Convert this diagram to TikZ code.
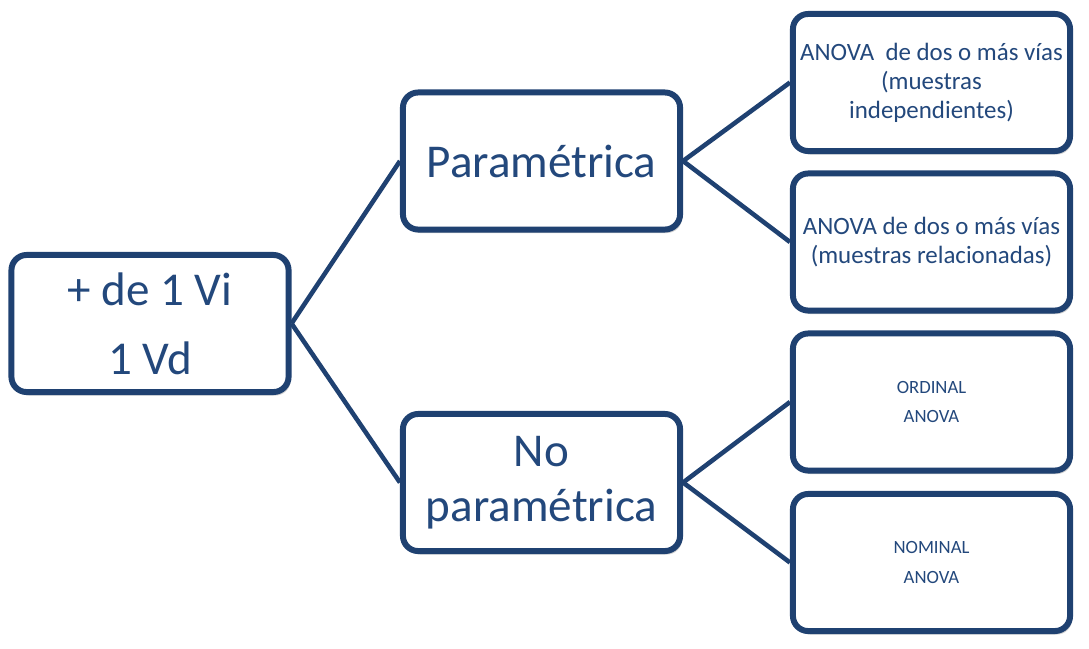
\documentclass[tikz,border=0pt]{standalone}
\usepackage{fontspec}
\setmainfont{Carlito}
\usetikzlibrary{shadows}

\definecolor{boxblue}{RGB}{31,65,113}
\definecolor{textblue}{RGB}{35,72,124}

\tikzset{
	box/.style={draw=boxblue, line width=4.3pt, fill=white, rounded corners=11pt,
		minimum width=2.77in, minimum height=1.37in, align=center, text=textblue,
		inner sep=0pt, drop shadow={shadow xshift=1.5pt, shadow yshift=-2.5pt, opacity=0.3, fill=black!60}},
	bigtext/.style={font=\fontsize{34}{40}\selectfont},
	midtext/.style={font=\fontsize{18}{21}\selectfont},
	smalltext/.style={font=\fontsize{13.5}{21.6}\selectfont},
	link/.style={draw=boxblue, line width=3.3pt}
}

\begin{document}
\begin{tikzpicture}[x=0.01in, y=-0.01in]
			%%%%% START %%%%%
			
			\useasboundingbox (0, 0) rectangle (1089, 648);
			
			\node[box, font=\fontsize{34}{50}\selectfont] (root) at (150, 323.5) {+ de 1 Vi\\1 Vd};
			
			\node[box, bigtext] (param) at (541.5, 161) {Paramétrica};
			\node[box, bigtext] (noparam) at (541.5, 482.5) {No\\paramétrica};
			
			\node[box, midtext] (indep) at (931.5, 82.5) {ANOVA\ \ de dos o más vías\\(muestras\\independientes)};
			\node[box, midtext] (relac) at (931.5, 242) {ANOVA de dos o más vías\\(muestras relacionadas)};
			
			\node[box, smalltext] (ordinal) at (931.5, 402) {ORDINAL\\ANOVA};
			\node[box, smalltext] (nominal) at (931.5, 562.5) {NOMINAL\\ANOVA};
			
			\draw[link] (root.east) -- (param.west);
			\draw[link] (root.east) -- (noparam.west);
			
			\draw[link] (param.east) -- (indep.west);
			\draw[link] (param.east) -- (relac.west);
			
			\draw[link] (noparam.east) -- (ordinal.west);
			\draw[link] (noparam.east) -- (nominal.west);
			
			%%%%% END %%%%%
\end{tikzpicture}
\end{document}
